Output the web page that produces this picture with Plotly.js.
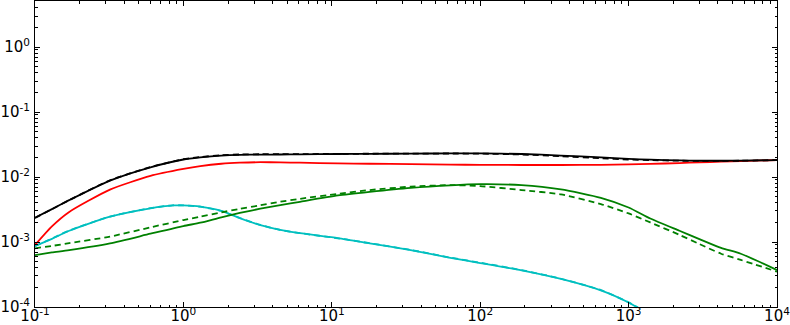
<!DOCTYPE html>
<html><head><meta charset="utf-8">
<script src="https://cdn.plot.ly/plotly-3.0.1.min.js"></script>
<style>html,body{margin:0;padding:0;background:#fff}#c{width:790px;height:325px}</style>
</head><body><div id="c"></div>
<script>
const xs = [0.1,0.13,0.17,0.32,0.6,1.0,1.3,1.8,2.4,3.3,4.5,6.1,11,18,34,63,100,190,350,650,1000,1400,2200,3000,4200,5700,10000];
const blackSolid = [0.00237,0.0032,0.0044,0.0088,0.0141,0.0186,0.0200,0.0213,0.0219,0.0221,0.0222,0.0223,0.0226,0.0227,0.0229,0.0231,0.0231,0.0226,0.0214,0.0200,0.0190,0.0185,0.0180,0.0178,0.0178,0.0179,0.0182];
const blackDashed = [0.00235,0.0032,0.0044,0.0089,0.0142,0.0188,0.0203,0.0216,0.0222,0.0224,0.0225,0.0225,0.0227,0.0228,0.0229,0.0230,0.0229,0.0222,0.0209,0.0195,0.0186,0.0182,0.0178,0.0177,0.0177,0.0178,0.0182];
const redSolid = [0.0009,0.00174,0.0029,0.0064,0.0104,0.0133,0.0147,0.0160,0.0166,0.0169,0.0168,0.0166,0.0162,0.0160,0.0158,0.0155,0.0154,0.0153,0.0153,0.0154,0.0156,0.0159,0.0164,0.0168,0.0172,0.0176,0.0182];
const greenSolid = [0.00063,0.00069,0.00075,0.000955,0.00134,0.00176,0.00198,0.0024,0.0028,0.00325,0.00368,0.00415,0.0052,0.0059,0.0068,0.00745,0.00775,0.0075,0.00645,0.00479,0.0034,0.0023,0.00149,0.00111,0.00081,0.00066,0.00037];
const greenDashed = [0.0008,0.00087,0.00096,0.00121,0.00168,0.00218,0.00245,0.00285,0.00324,0.00367,0.00417,0.00462,0.0055,0.0063,0.0071,0.0075,0.00725,0.0063,0.0054,0.00383,0.00275,0.002,0.00129,0.00093,0.00066,0.00053,0.00035];
const xsCyan = [0.1,0.13,0.17,0.32,0.6,0.85,1.0,1.3,1.8,2.4,3.3,4.5,6.1,11,18,34,63,100,190,350,650,1000,1400];
const cyanSolid = [0.00087,0.00112,0.00149,0.00245,0.0033,0.00365,0.00365,0.0035,0.00302,0.00233,0.00182,0.00154,0.001365,0.00115,0.000955,0.00075,0.00057,0.000475,0.000366,0.00027,0.00018,0.000117,0.000075];
const cyanDashed = [0.00086,0.00113,0.00150,0.00246,0.00332,0.00367,0.00366,0.00349,0.003,0.00234,0.00183,0.00153,0.00137,0.00114,0.00096,0.000755,0.000575,0.00048,0.00037,0.000272,0.000182,0.000118,0.000076];
const xTickVals = [0.1,1,10,100,1000,10000];
const xTickText = ['10<sup>-1</sup>','10<sup>0</sup>','10<sup>1</sup>','10<sup>2</sup>','10<sup>3</sup>','10<sup>4</sup>'];
const yTickVals = [0.0001,0.001,0.01,0.1,1];
const yTickText = ['10<sup>-4</sup>','10<sup>-3</sup>','10<sup>-2</sup>','10<sup>-1</sup>','10<sup>0</sup>'];

const dash = '6px,4px';
const sp = {shape:'spline', smoothing:0.6};
const traces = [
  {x: xsCyan, y: cyanDashed, mode:'lines', line:Object.assign({color:'#00bfbf', width:1.8, dash:dash}, sp)},
  {x: xsCyan, y: cyanSolid, mode:'lines', line:Object.assign({color:'#00bfbf', width:1.8}, sp)},
  {x: xs, y: greenDashed, mode:'lines', line:Object.assign({color:'#008000', width:1.8, dash:dash}, sp)},
  {x: xs, y: greenSolid, mode:'lines', line:Object.assign({color:'#008000', width:1.8}, sp)},
  {x: xs, y: redSolid, mode:'lines', line:Object.assign({color:'#ff0000', width:1.8}, sp)},
  {x: xs, y: blackDashed, mode:'lines', line:Object.assign({color:'#000000', width:1.8, dash:dash}, sp)},
  {x: xs, y: blackSolid, mode:'lines', line:Object.assign({color:'#000000', width:1.8}, sp)}
];
const axisCommon = {
  type:'log', showgrid:false, zeroline:false, showline:true, linecolor:'#000', linewidth:1,
  mirror:'allticks', ticks:'inside', ticklen:5, tickcolor:'#000', tickwidth:1,
  tickmode:'array', ticklabeloverflow:'allow',
  tickfont:{family:'DejaVu Sans', size:15, color:'#000'},
  minor:{ticks:'inside', ticklen:2.5, tickcolor:'#000', tickwidth:1, dtick:'D1', showgrid:false}
};
const layout = {
  width:790, height:325, showlegend:false,
  margin:{l:35, r:13, t:1, b:18},
  paper_bgcolor:'#fff', plot_bgcolor:'#fff',
  xaxis: Object.assign({}, axisCommon, {range:[-1,4], tickvals:xTickVals, ticktext:xTickText, ticklabelstandoff:-5}),
  yaxis: Object.assign({}, axisCommon, {range:[-4,0.708], tickvals:yTickVals, ticktext:yTickText, ticklabelstandoff:1})
};
Plotly.newPlot('c', traces, layout, {staticPlot:true, displayModeBar:false});
</script></body></html>
